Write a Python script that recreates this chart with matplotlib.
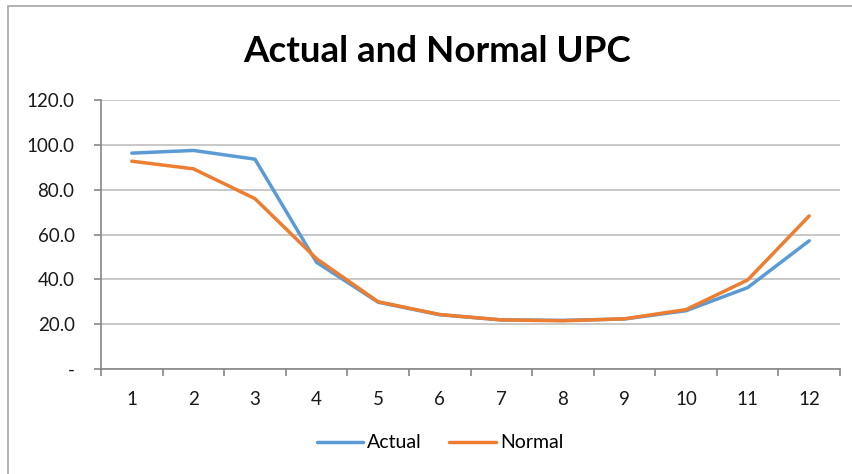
import matplotlib
matplotlib.use('Agg')
import matplotlib.pyplot as plt
from matplotlib.patches import Rectangle
from matplotlib.ticker import FixedLocator, FuncFormatter

months = ['1', '2', '3', '4', '5', '6', '7', '8', '9', '10', '11', '12']
actual = [96.3, 97.5, 93.6, 47.6, 29.8, 24.2, 21.9, 21.7, 22.3, 26.0, 36.3, 57.2]
normal = [92.7, 89.3, 76.0, 49.2, 30.0, 24.3, 21.9, 21.5, 22.4, 26.5, 39.7, 68.3]

plt.rcParams['font.family'] = ['Lato', 'DejaVu Sans']

fig = plt.figure(figsize=(8.52, 4.74), dpi=100)
ax = fig.add_axes([101 / 852, 105 / 474, 739 / 852, 269 / 474])

# chart-area border (runs off the right/bottom of the image like the original)
fig.patches.append(Rectangle((8 / 852, -0.05), 1.0, 1 - 6 / 474 + 0.05,
                             transform=fig.transFigure, fill=False,
                             edgecolor='#a6a6a6', linewidth=1.2, zorder=0))

x = list(range(len(months)))
ax.plot(x, actual, color='#5b9bd5', linewidth=2.5, label='Actual',
        solid_capstyle='round', solid_joinstyle='round')
ax.plot(x, normal, color='#ed7d31', linewidth=2.5, label='Normal',
        solid_capstyle='round', solid_joinstyle='round')

ax.set_xlim(-0.5, len(months) - 0.5)
ax.set_ylim(0, 120)
ax.set_yticks(range(0, 121, 20))
ax.yaxis.set_major_formatter(FuncFormatter(lambda v, p: '-' if v == 0 else f'{v:.1f}'))
ax.set_xticks(x)
ax.set_xticklabels(months)
ax.xaxis.set_minor_locator(FixedLocator([i - 0.5 for i in range(len(months) + 1)]))

ax.grid(axis='y', color='#bfbfbf', linewidth=1.2)
ax.set_axisbelow(True)
for side in ['top', 'right']:
    ax.spines[side].set_visible(False)
for side in ['left', 'bottom']:
    ax.spines[side].set_color('#868686')
    ax.spines[side].set_linewidth(1.2)

ax.tick_params(axis='x', which='major', length=0, pad=16, labelsize=13.5, colors='#1a1a1a')
ax.tick_params(axis='x', which='minor', length=5, width=1.2, color='#868686')
ax.tick_params(axis='y', length=5, width=1.2, color='#868686', pad=14,
               labelsize=13.5, labelcolor='#1a1a1a')

fig.text(437 / 852, 1 - 52 / 474, 'Actual and Normal UPC', ha='center', va='center',
         fontsize=26.5, fontweight='bold', color='#000000')

fig.legend(loc='center', bbox_to_anchor=(440 / 852, 1 - 443 / 474), ncol=2,
           frameon=False, fontsize=14, handlelength=2.4, handletextpad=0.2,
           columnspacing=1.4)

plt.savefig('out.png', dpi=100)
plt.close()
